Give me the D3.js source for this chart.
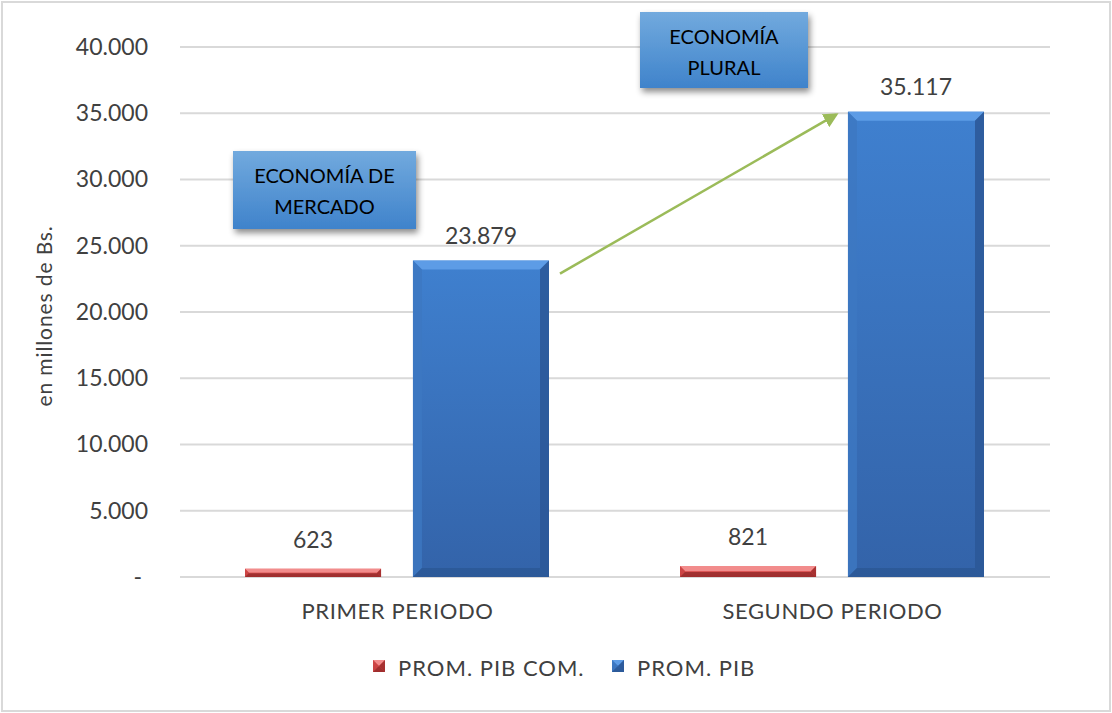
<!DOCTYPE html>
<html>
<head>
<meta charset="utf-8">
<script src="https://cdn.jsdelivr.net/npm/d3@7"></script>
<style>
  html, body { margin: 0; padding: 0; background: #fff; }
  svg { display: block; }
  text { font-family: Lato, "Open Sans", sans-serif; }
</style>
</head>
<body>
<svg id="chart" width="1112" height="713"></svg>
<script>
// Promedios por periodo, en millones de Bs.
const categories = ["PRIMER PERIODO", "SEGUNDO PERIODO"];
const seriesNames = ["PROM. PIB COM.", "PROM. PIB"];
const pibCom = [623, 821];
const pib = [23879, 35117];
const yTicks = [0, 5000, 10000, 15000, 20000, 25000, 30000, 35000, 40000];
const boxLabels = [["ECONOMÍA DE", "MERCADO"], ["ECONOMÍA", "PLURAL"]];

const W = 1112, H = 713;
const margin = { left: 180, right: 62, top: 47, bottom: 136 };
const svg = d3.select("#chart");
const defs = svg.append("defs");

const locale = d3.formatLocale({ decimal: ",", thousands: ".", grouping: [3], currency: ["", ""] });
const fmt = locale.format(",d");

const x0 = d3.scaleBand().domain(categories)
  .range([margin.left, W - margin.right]).paddingInner(0).paddingOuter(0);
const x1 = d3.scaleBand().domain(seriesNames)
  .range([65, x0.bandwidth() - 66]).paddingInner(0.19);
const y = d3.scaleLinear().domain([0, 40000]).range([H - margin.bottom, margin.top]);

// gradients
function vGrad(id, stops) {
  const g = defs.append("linearGradient").attr("id", id)
    .attr("x1", 0).attr("y1", 0).attr("x2", 0).attr("y2", 1);
  stops.forEach(s => g.append("stop").attr("offset", s[0]).attr("stop-color", s[1]));
}
vGrad("blueBody", [[0, "#3f80cf"], [1, "#3363a9"]]);
vGrad("redBody", [[0, "#e76464"], [1, "#d04848"]]);
vGrad("boxFill", [[0, "#72aade"], [1, "#3f83cb"]]);
const shadow = defs.append("filter").attr("id", "shadow")
  .attr("x", "-10%").attr("y", "-10%").attr("width", "130%").attr("height", "140%");
shadow.append("feDropShadow").attr("dx", 2).attr("dy", 4).attr("stdDeviation", 3)
  .attr("flood-color", "#000").attr("flood-opacity", 0.45);
defs.append("marker").attr("id", "arrowHead")
  .attr("viewBox", "0 0 10 10").attr("refX", 8).attr("refY", 5)
  .attr("markerWidth", 6).attr("markerHeight", 6).attr("orient", "auto")
  .append("path").attr("d", "M0,0 L10,5 L0,10 Z").attr("fill", "#9bbb59");

// outer frame
svg.append("rect").attr("x", 2).attr("y", 2).attr("width", W - 4).attr("height", H - 4)
  .attr("fill", "#fff").attr("stroke", "#d9d9d9").attr("stroke-width", 2);

// gridlines
svg.append("g").selectAll("line").data(yTicks).join("line")
  .attr("x1", margin.left).attr("x2", W - margin.right)
  .attr("y1", d => y(d)).attr("y2", d => y(d))
  .attr("stroke", "#d9d9d9").attr("stroke-width", 2);

// y axis labels
const yAxis = d3.axisLeft(y).tickValues(yTicks).tickSize(0).tickPadding(0)
  .tickFormat(d => d === 0 ? "-" : fmt(d));
const yg = svg.append("g").attr("transform", `translate(${148},0)`).call(yAxis);
yg.select(".domain").remove();
yg.selectAll("text").attr("fill", "#404040").style("font-size", "23px")
  .style("font-family", "Lato, sans-serif").attr("dx", d => d === 0 ? -6 : 0);

svg.append("text")
  .attr("transform", `translate(52,${(y(0) + y(40000)) / 2 + 4}) rotate(-90)`)
  .attr("text-anchor", "middle").attr("fill", "#404040")
  .style("font-size", "21px").style("letter-spacing", "0.9px")
  .text("en millones de Bs.");

// x axis labels
const xAxis = d3.axisBottom(x0).tickSize(0).tickPadding(0);
const xg = svg.append("g").attr("transform", `translate(0,${y(0) + 26})`).call(xAxis);
xg.select(".domain").remove();
xg.selectAll("text").attr("fill", "#404040").style("font-size", "22px")
  .style("letter-spacing", "0.6px")
  .style("font-family", "Lato, sans-serif").attr("dy", "0.71em");

// bevelled bars
const palettes = {
  "PROM. PIB COM.": { body: "url(#redBody)", top: "#f28c8c", left: "#c84040", right: "#9e2a2a", bottom: "#8a2222" },
  "PROM. PIB": { body: "url(#blueBody)", top: "#5d9ce6", left: "#3d78c2", right: "#2b5796", bottom: "#2a5592" }
};
function bevelBar(g, bx, by, bw, bh, pal) {
  const b = Math.min(9, bh / 2.2);
  g.append("rect").attr("x", bx).attr("y", by).attr("width", bw).attr("height", bh).attr("fill", pal.body);
  g.append("polygon").attr("points", [[bx, by], [bx + bw, by], [bx + bw - b, by + b], [bx + b, by + b]].join(" "))
    .attr("fill", pal.top);
  g.append("polygon").attr("points", [[bx, by], [bx + b, by + b], [bx + b, by + bh - b], [bx, by + bh]].join(" "))
    .attr("fill", pal.left).attr("opacity", 0.8);
  g.append("polygon").attr("points", [[bx + bw, by], [bx + bw - b, by + b], [bx + bw - b, by + bh - b], [bx + bw, by + bh]].join(" "))
    .attr("fill", pal.right).attr("opacity", 0.85);
  g.append("polygon").attr("points", [[bx, by + bh], [bx + b, by + bh - b], [bx + bw - b, by + bh - b], [bx + bw, by + bh]].join(" "))
    .attr("fill", pal.bottom).attr("opacity", 0.7);
}

const rows = categories.map((c, i) => ({ cat: c, vals: [
  { s: seriesNames[0], v: pibCom[i] }, { s: seriesNames[1], v: pib[i] }
] }));
const barsG = svg.append("g");
rows.forEach(r => {
  r.vals.forEach(d => {
    const bx = x0(r.cat) + x1(d.s);
    const by = y(d.v);
    bevelBar(barsG, bx, by, x1.bandwidth(), y(0) - by, palettes[d.s]);
    barsG.append("text").attr("x", bx + x1.bandwidth() / 2).attr("y", by - (d.v < 2000 ? 21 : 17))
      .attr("text-anchor", "middle").attr("fill", "#404040").style("font-size", "23px")
      .text(fmt(d.v));
  });
});

// growth arrow between the two PIB bars
const aStart = [x0(categories[0]) + x1(seriesNames[1]) + x1.bandwidth() + 11, y(pib[0]) + 13];
const aEnd = [x0(categories[1]) + x1(seriesNames[1]) - 12, y(pib[1]) + 3];
svg.append("line").attr("x1", aStart[0]).attr("y1", aStart[1])
  .attr("x2", aEnd[0]).attr("y2", aEnd[1])
  .attr("stroke", "#9bbb59").attr("stroke-width", 2.5).attr("marker-end", "url(#arrowHead)");

// annotation boxes
const boxes = [
  { x: 233, y: 151, w: 183, h: 78, lines: boxLabels[0] },
  { x: 640, y: 12, w: 168, h: 76, lines: boxLabels[1] }
];
boxes.forEach(bx => {
  svg.append("rect").attr("x", bx.x).attr("y", bx.y).attr("width", bx.w).attr("height", bx.h)
    .attr("fill", "url(#boxFill)").attr("filter", "url(#shadow)");
  bx.lines.forEach((t, i) => {
    svg.append("text").attr("x", bx.x + bx.w / 2).attr("y", bx.y + 32 + i * 31)
      .attr("text-anchor", "middle").attr("fill", "#000").style("font-size", "20px")
      .text(t);
  });
});

// legend
const legend = svg.append("g").attr("transform", `translate(373,660)`);
const legendItems = [{ s: seriesNames[0], x: 0 }, { s: seriesNames[1], x: 239 }];
legendItems.forEach(it => {
  const g = legend.append("g").attr("transform", `translate(${it.x},0)`);
  bevelBar(g, 0, 0, 12, 12, palettes[it.s]);
  g.append("text").attr("x", 25).attr("y", 16).attr("fill", "#404040")
    .style("font-size", "22px").style("letter-spacing", "1px").text(it.s);
});
</script>
</body>
</html>
